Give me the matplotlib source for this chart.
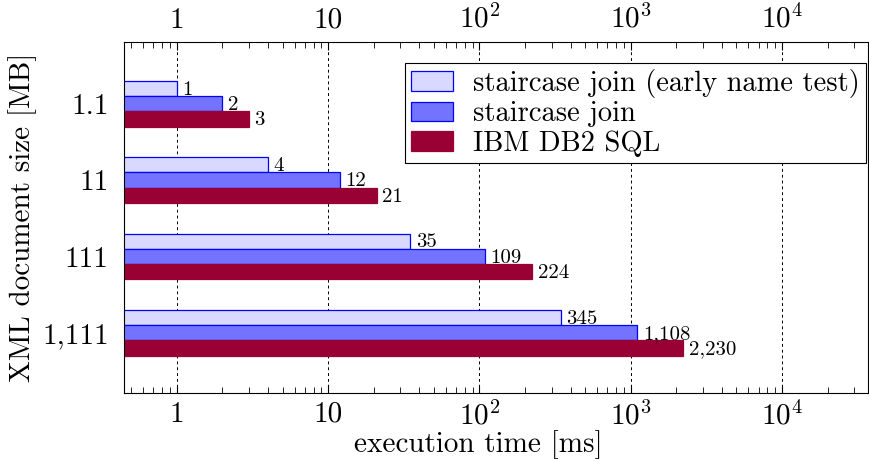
import numpy as np
import matplotlib
matplotlib.use('Agg')
import matplotlib.pyplot as plt
from matplotlib.ticker import FixedLocator, LogLocator, NullFormatter

plt.rcParams['font.family'] = 'serif'
plt.rcParams['font.serif'] = ['cmr10']
plt.rcParams['mathtext.fontset'] = 'cm'
plt.rcParams['axes.formatter.use_mathtext'] = True

sizes = ['1.1', '11', '111', '1,111']
series = ['staircase join (early name test)', 'staircase join', 'IBM DB2 SQL']
early_name = [1, 4, 35, 345]
staircase = [2, 12, 109, 1108]
db2 = [3, 21, 224, 2230]

face_colors = ['#d9d9ff', '#7373ff', '#990033']
edge_colors = ['#0000ff', '#0000ff', '#990033']

fig = plt.figure(figsize=(8.7, 4.61), dpi=100)
ax = fig.add_axes([0.1425, 0.1475, 0.855, 0.7615])

y = np.arange(len(sizes))
h = 0.2
offsets = [-h, 0, h]
for vals, off, fc, ec, name in zip([early_name, staircase, db2], offsets,
                                   face_colors, edge_colors, series):
    bars = ax.barh(y + off, vals, height=h, color=fc, edgecolor=ec,
                   linewidth=0.9, label=name, zorder=2)
    for b, v in zip(bars, vals):
        ax.annotate(f'{v:,}', (b.get_width(), b.get_y() + b.get_height() / 2),
                    xytext=(4, -1), textcoords='offset points',
                    ha='left', va='center', fontsize=15)

ax.set_xscale('log')
ax.set_xlim(0.447, 36900)
ax.set_ylim(3.79, -0.81)

majors = [1, 10, 100, 1000, 10000]
major_labels = ['1', '10', r'$10^{2}$', r'$10^{3}$', r'$10^{4}$']
ax.xaxis.set_major_locator(FixedLocator(majors))
ax.set_xticklabels(major_labels)
ax.xaxis.set_minor_locator(LogLocator(base=10, subs=np.arange(2, 10)))
ax.xaxis.set_minor_formatter(NullFormatter())
ax.tick_params(axis='x', which='both', direction='in', top=True, bottom=True,
               labeltop=True, labelbottom=True, labelsize=21, pad=6)
ax.tick_params(axis='x', which='major', length=6, width=0.8)
ax.tick_params(axis='x', which='minor', length=4.5, width=0.6)

ax.set_yticks(y)
ax.set_yticklabels(sizes)
ax.tick_params(axis='y', length=0, labelsize=21, pad=11)

ax.grid(axis='x', which='major', color='black', linestyle=(0, (3, 3)),
        linewidth=0.7, zorder=0)
ax.set_axisbelow(True)

ax.set_xlabel('execution time [ms]', fontsize=21)
ax.xaxis.set_label_coords(0.476, -0.106)
ax.set_ylabel('XML document size [MB]', fontsize=21, labelpad=4)

leg = ax.legend(loc='upper right', bbox_to_anchor=(0.997, 0.94),
                borderaxespad=0, fontsize=20.5, fancybox=False, edgecolor='black',
                framealpha=1, handlelength=1.5, handleheight=0.7,
                labelspacing=0.12, borderpad=0.2, handletextpad=0.7)
leg.get_frame().set_linewidth(0.8)

fig.savefig('out.png', dpi=100)
